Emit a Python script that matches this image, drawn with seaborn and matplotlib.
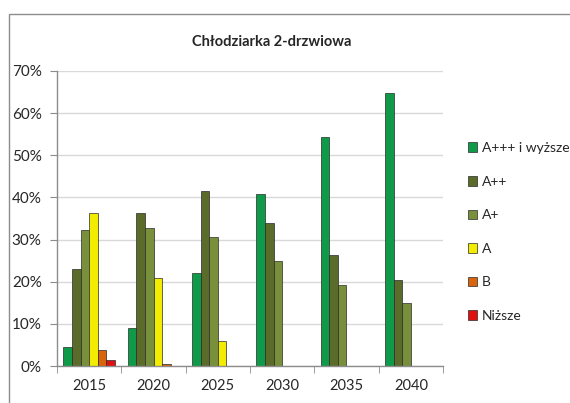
import numpy as np
import pandas as pd
import seaborn as sns
import matplotlib.pyplot as plt
from matplotlib.patches import Rectangle
from matplotlib.ticker import FixedLocator, FuncFormatter

years = ["2015", "2020", "2025", "2030", "2035", "2040"]
classes = ["A+++ i wyższe", "A++", "A+", "A", "B", "Niższe"]
share_a3 = [4.5, 9.0, 22.0, 40.7, 54.3, 64.7]
share_a2 = [23.0, 36.4, 41.6, 34.0, 26.4, 20.5]
share_a1 = [32.3, 32.8, 30.5, 25.0, 19.3, 15.0]
share_a = [36.2, 21.0, 6.0, 0.0, 0.0, 0.0]
share_b = [3.8, 0.5, 0.0, 0.0, 0.0, 0.0]
share_low = [1.5, 0.0, 0.0, 0.0, 0.0, 0.0]

colors = ["#0e9a48", "#5a6b2a", "#78903c", "#f2ec00", "#d8640c", "#e01010"]

series = [share_a3, share_a2, share_a1, share_a, share_b, share_low]
df = pd.DataFrame({
    "year": np.repeat([years], len(classes), axis=0).ravel(),
    "cls": np.repeat(classes, len(years)),
    "val": np.concatenate(series),
})

sns.set_style("white")
plt.rcParams["font.family"] = ["Lato", "DejaVu Sans"]

fig = plt.figure(figsize=(5.7, 4.03), dpi=100)
ax = fig.add_axes([57 / 570, 1 - 366 / 403, (443 - 57) / 570, (366 - 71) / 403])

sns.barplot(data=df, x="year", y="val", hue="cls", order=years,
            hue_order=classes, palette=colors, width=0.8, ax=ax,
            edgecolor="#2a2a2a", linewidth=0.5, saturation=1)

ax.set_ylim(0, 70)
ax.set_xlim(-0.5, 5.5)
ax.set_xlabel("")
ax.set_ylabel("")
ax.yaxis.set_major_locator(FixedLocator(range(0, 71, 10)))
ax.yaxis.set_major_formatter(FuncFormatter(lambda v, _: f"{int(v)}%"))
ax.grid(axis="y", color="#d9d9d9", linewidth=1)
ax.set_axisbelow(True)
for s in ["top", "right"]:
    ax.spines[s].set_visible(False)
for s in ["left", "bottom"]:
    ax.spines[s].set_color("#8c8c8c")
    ax.spines[s].set_linewidth(1)
ax.tick_params(axis="y", length=5, color="#8c8c8c", labelsize=11, pad=6, left=True)
ax.tick_params(axis="x", which="major", length=0, labelsize=10.5, pad=9)
ax.xaxis.set_minor_locator(FixedLocator(np.arange(-0.5, 6, 1)))
ax.tick_params(axis="x", which="minor", length=5, color="#8c8c8c", bottom=True)

handles, labels = ax.get_legend_handles_labels()
ax.legend_.remove()
fig.legend(handles, labels, loc="center left",
           bbox_to_anchor=(462 / 570, 1 - 232 / 403), frameon=False,
           fontsize=10, handlelength=0.7, handleheight=0.7,
           labelspacing=1.55, handletextpad=0.35, borderaxespad=0)

fig.text(272 / 570, 1 - 42 / 403, "Chłodziarka 2-drzwiowa",
         ha="center", va="center", fontsize=10.5, fontweight="bold")

fig.patches.append(Rectangle((9 / 570, -0.05), 1.2, 1 - 14 / 403 + 0.05,
                             transform=fig.transFigure, fill=False,
                             edgecolor="#8c8c8c", linewidth=1))

fig.savefig("out.png", dpi=100)
